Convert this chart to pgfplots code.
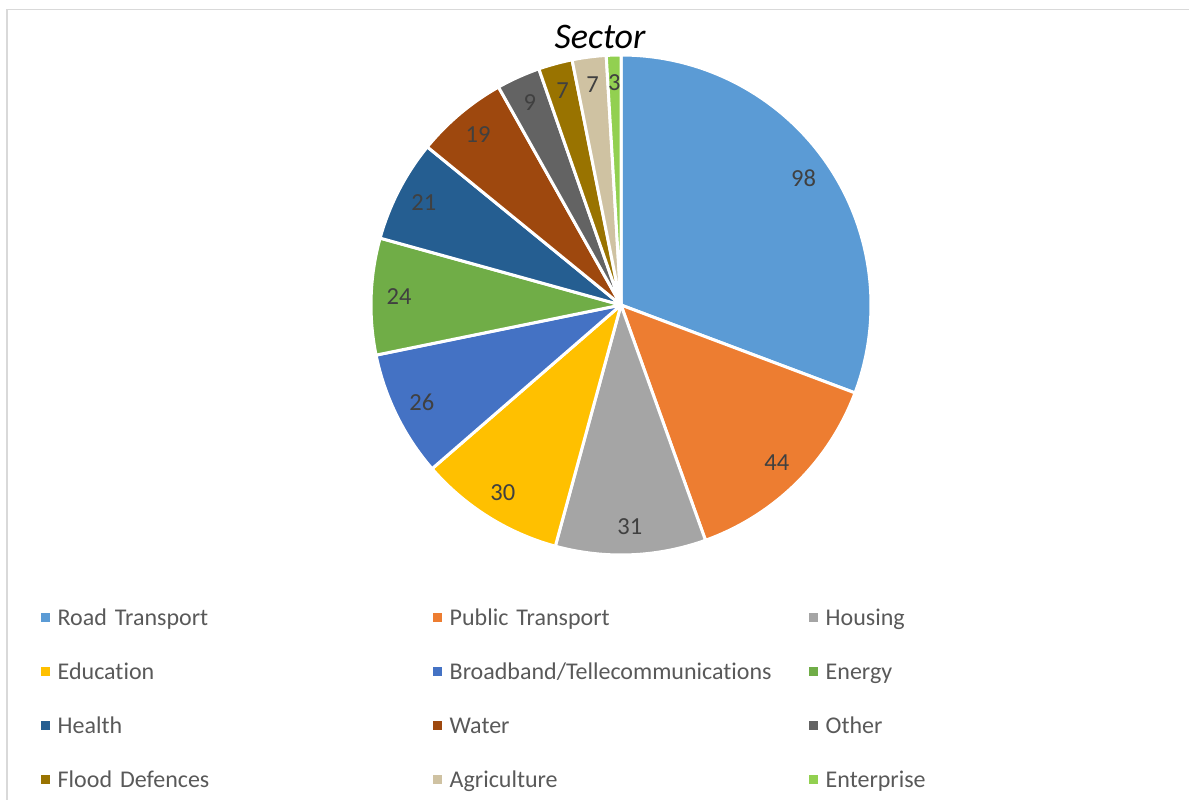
\documentclass[border=0pt]{standalone}
\usepackage{fontspec}
\setmainfont{Carlito}[Ligatures=NoCommon]
\usepackage{pgfplots}
\pgfplotsset{compat=1.18}

\definecolor{c1}{HTML}{5B9BD5}
\definecolor{c2}{HTML}{ED7D31}
\definecolor{c3}{HTML}{A5A5A5}
\definecolor{c4}{HTML}{FFC000}
\definecolor{c5}{HTML}{4472C4}
\definecolor{c6}{HTML}{70AD47}
\definecolor{c7}{HTML}{255E91}
\definecolor{c8}{HTML}{9E480E}
\definecolor{c9}{HTML}{636363}
\definecolor{c10}{HTML}{997300}
\definecolor{c11}{HTML}{CFC2A2}
\definecolor{c12}{HTML}{92D050}
\definecolor{labgray}{HTML}{404040}
\definecolor{leggray}{HTML}{595959}
\definecolor{framegray}{HTML}{D9D9D9}

\tikzset{labelstyle/.style={font=\fontsize{24.5}{28}\selectfont, text=labgray,
      inner sep=0pt, text height=15pt, text depth=0pt, anchor=center}}

% total of all sectors
\newcommand\total{319}
\newcommand\bbt{Broadband/Tellecommunications}

\begin{document}
\begin{tikzpicture}
\path[use as bounding box] (0,0) rectangle (1189pt,800pt);
\begin{axis}[
    at={(0,0)}, anchor=south west,
    x=1pt, y=1pt,
    xmin=-621, xmax=568, ymin=-495, ymax=305,
    hide axis, clip=false,
    legend columns=3,
    legend image code/.code={\fill[#1,draw=none] (0pt,-2.7pt) rectangle (9pt,6.3pt);},
    legend style={at={(0.03406,0.24)}, anchor=north west, draw=none, fill=none,
      inner sep=0pt, row sep=31pt, column sep=8pt,
      font=\fontsize{24}{28}\selectfont, text=leggray,
      nodes={inner sep=0pt, text height=17pt, text depth=6pt, text width=300pt, anchor=west},
      /tikz/column 2/.style={column sep=75pt},
      /tikz/column 4/.style={column sep=59pt}},
]
\gdef\cum{0}
\foreach \v/\col/\lab in {98/c1/Road Transport, 44/c2/Public Transport, 31/c3/Housing,
    30/c4/Education, 26/c5/\bbt, 24/c6/Energy,
    21/c7/Health, 19/c8/Water, 9/c9/Other,
    7/c10/Flood Defences, 7/c11/Agriculture, 3/c12/Enterprise}{
  \pgfmathsetmacro\aS{90-\cum/\total*360}
  \pgfmathsetmacro\newcum{\cum+\v}
  \pgfmathsetmacro\aE{90-\newcum/\total*360}
  \pgfmathsetmacro\aM{(\aS+\aE)/2}
  \pgfmathsetmacro\lx{222*cos(\aM)}
  \pgfmathsetmacro\ly{222*sin(\aM)}
  \edef\tmp{\noexpand\addplot[fill=\col, draw=white, line width=3pt, line join=round,
      domain=\aE:\aS, samples=100] ({250*cos(x)},{250*sin(x)}) -- (0,0) -- cycle;
    \noexpand\addlegendentry{\lab}
    \noexpand\node[labelstyle] at (axis cs:\lx,\ly) {\v};}
  \tmp
  \xdef\cum{\newcum}
}
\node[font=\fontsize{36}{40}\selectfont\itshape, anchor=base] at (axis cs:-21,256) {Sector};
\draw[framegray, line width=1.5pt] (axis cs:-614,-500) -- (axis cs:-614,295.5) -- (axis cs:570,295.5);
\end{axis}
\end{tikzpicture}
\end{document}
